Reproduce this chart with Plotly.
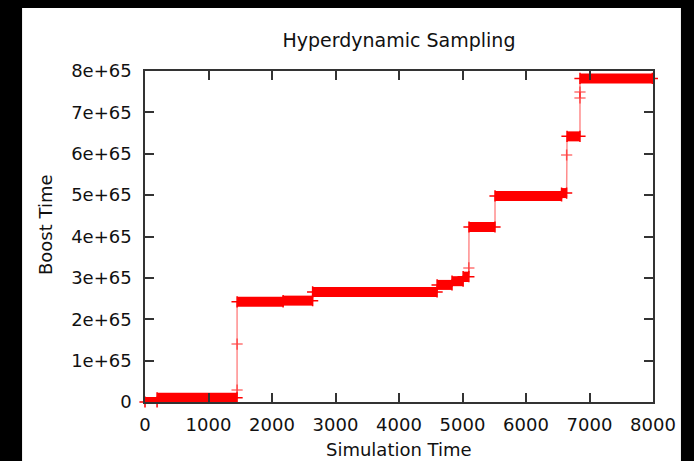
import plotly.graph_objects as go

# Horizontal runs of the boost-time trace: start/end simulation time and level
run_start = [0, 190, 1450, 2175, 2640, 4600, 4835, 5010, 5102, 5512, 6560, 6646, 6850]
run_end = [190, 1450, 2175, 2640, 4600, 4835, 5010, 5100, 5512, 6560, 6640, 6850, 7990]
run_level = [0.0, 0.1e65, 2.42e65, 2.45e65, 2.66e65, 2.83e65, 2.92e65, 3.03e65,
             4.23e65, 4.98e65, 5.05e65, 6.42e65, 7.82e65]

# Isolated samples taken while the boost time jumps between levels
transient_x = [1450, 1450, 5100, 6640, 6850, 6850]
transient_y = [0.29e65, 1.40e65, 3.24e65, 5.97e65, 7.35e65, 7.49e65]

# Axis ticks
x_ticks = [0, 1000, 2000, 3000, 4000, 5000, 6000, 7000, 8000]
x_tick_text = ["0", "1000", "2000", "3000", "4000", "5000", "6000", "7000", "8000"]
y_ticks = [0, 1e65, 2e65, 3e65, 4e65, 5e65, 6e65, 7e65, 8e65]
y_tick_text = ["0", "1e+65", "2e+65", "3e+65", "4e+65", "5e+65", "6e+65", "7e+65", "8e+65"]

FONT = "DejaVu Sans"
TEXT = "#111111"
RED = "#ff0000"

# thick bands: one segment per run
band_x, band_y = [], []
for s, e, v in zip(run_start, run_end, run_level):
    band_x += [s, e, None]
    band_y += [v, v, None]

# thin connecting path through every sample in time order
samples = ([(s, v) for s, v in zip(run_start, run_level)]
           + [(e, v) for e, v in zip(run_end, run_level)]
           + list(zip(transient_x, transient_y)))
samples.sort()
path_x = [p[0] for p in samples]
path_y = [p[1] for p in samples]

fig = go.Figure()
fig.add_trace(go.Scatter(
    x=path_x, y=path_y, mode="lines",
    line=dict(color="rgba(255,0,0,0.45)", width=1.5),
    cliponaxis=False, hoverinfo="skip", showlegend=False))
fig.add_trace(go.Scatter(
    x=band_x, y=band_y, mode="lines+markers",
    line=dict(color=RED, width=10),
    marker=dict(symbol="cross-thin", size=8, line=dict(color=RED, width=1.5)),
    cliponaxis=False, connectgaps=False, showlegend=False))
fig.add_trace(go.Scatter(
    x=transient_x, y=transient_y, mode="markers",
    marker=dict(symbol="cross-thin", size=8,
                line=dict(color="rgba(255,0,0,0.55)", width=1.5)),
    cliponaxis=False, showlegend=False))

axis_common = dict(
    showline=True, mirror="ticks", linecolor="#333333", linewidth=1.5,
    ticks="inside", ticklen=9, tickwidth=1.5, tickcolor="#333333",
    showgrid=False, zeroline=False,
    tickfont=dict(family=FONT, size=18, color=TEXT),
)

fig.update_xaxes(range=[0, 8000], tickmode="array", tickvals=x_ticks,
                 ticktext=x_tick_text, ticklabelstandoff=6, **axis_common)
fig.update_yaxes(range=[0, 8e65], tickmode="array", tickvals=y_ticks,
                 ticktext=y_tick_text, ticklabelstandoff=8, **axis_common)

fig.update_layout(
    width=694, height=461,
    margin=dict(l=145, r=41, t=71, b=59, pad=0),
    paper_bgcolor="black", plot_bgcolor="white",
    title=dict(text="Hyperdynamic Sampling", x=0.5, xref="paper",
               xanchor="center", y=1 - 40 / 461, yref="container",
               yanchor="middle", font=dict(family=FONT, size=19, color=TEXT)),
    shapes=[dict(type="rect", xref="paper", yref="paper",
                 x0=-0.242, x1=1.055, y0=-0.3, y1=1.19,
                 fillcolor="white", line=dict(width=0), layer="below")],
    annotations=[
        dict(text="Simulation Time", xref="paper", yref="paper",
             x=0.5, y=(402 - 449) / 331, xanchor="center", yanchor="middle",
             showarrow=False, font=dict(family=FONT, size=18, color=TEXT)),
        dict(text="Boost Time", xref="paper", yref="paper",
             x=(45 - 145) / 508, y=(402 - 225) / 331, xanchor="center",
             yanchor="middle", textangle=-90, showarrow=False,
             font=dict(family=FONT, size=18, color=TEXT)),
    ],
)

fig.write_html("out.html")
